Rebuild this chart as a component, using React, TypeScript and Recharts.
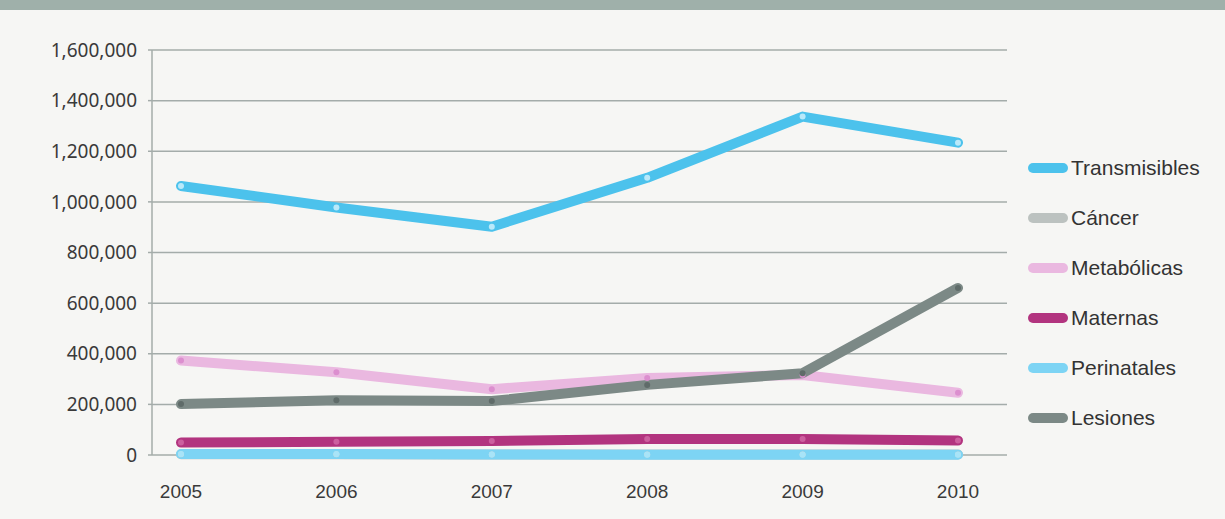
import React from "react";
import { LineChart, Line, XAxis, YAxis, CartesianGrid } from "recharts";

const years = ["2005", "2006", "2007", "2008", "2009", "2010"];
const transmisibles = [1063000, 978000, 902000, 1095000, 1337000, 1234000];
const cancer = [3000, 3000, 2000, 2000, 2000, 2000];
const metabolicas = [373000, 327000, 260000, 304000, 316000, 246000];
const maternas = [49000, 52000, 55000, 63000, 63000, 57000];
const perinatales = [4000, 4000, 2000, 1000, 1000, 1000];
const lesiones = [201000, 216000, 213000, 277000, 323000, 660000];
const yTicks = [0, 200000, 400000, 600000, 800000, 1000000, 1200000, 1400000, 1600000];

const series = [
  { key: "Cáncer", values: cancer, color: "#bcc2c0", dot: "#d6dad8" },
  { key: "Perinatales", values: perinatales, color: "#7dd4f4", dot: "#a8e4f8" },
  { key: "Maternas", values: maternas, color: "#b2347f", dot: "#cc5f9f" },
  { key: "Metabólicas", values: metabolicas, color: "#eab8e0", dot: "#dc8fcf" },
  { key: "Lesiones", values: lesiones, color: "#7c8986", dot: "#5f6b69" },
  { key: "Transmisibles", values: transmisibles, color: "#4cc2ec", dot: "#b9e9fa" },
];
const legendOrder = ["Transmisibles", "Cáncer", "Metabólicas", "Maternas", "Perinatales", "Lesiones"];

const data = years.map((y, i) => {
  const row: Record<string, string | number> = { year: y };
  series.forEach((s) => (row[s.key] = s.values[i]));
  return row;
});

const fmt = (v: number) => v.toLocaleString("en-US");

export default function App() {
  return (
    <div style={{ position: "absolute", left: 0, top: 0, width: 1225, height: 519, background: "#f6f6f4", overflow: "hidden" }}>
      <div style={{ position: "absolute", left: 0, top: 0, width: 1225, height: 10, background: "#9fb0aa" }} />
      <LineChart width={1225} height={519} data={data} margin={{ top: 50, right: 218, bottom: 24, left: 0 }}>
        <CartesianGrid vertical={false} stroke="#a4acaa" strokeWidth={1.5} />
        <XAxis
          dataKey="year"
          axisLine={false}
          tickLine={false}
          tickSize={0}
          tickMargin={30}
          height={40}
          padding={{ left: 29, right: 49 }}
          tick={{ fill: "#3a3a3a", fontSize: 19, fontFamily: "'Liberation Sans', Arial, sans-serif" }}
        />
        <YAxis
          width={152}
          domain={[0, 1600000]}
          ticks={yTicks}
          interval={0}
          tickFormatter={fmt}
          axisLine={{ stroke: "#a4acaa", strokeWidth: 1.5 }}
          tickLine={{ stroke: "#a4acaa", strokeWidth: 1.5 }}
          tickSize={4}
          tickMargin={11}
          tick={{ fill: "#3a3a3a", fontSize: 19, fontFamily: "'Noto Sans', sans-serif" }}
        />
        {series.map((s) => (
          <Line
            key={s.key}
            dataKey={s.key}
            stroke={s.color}
            strokeWidth={10}
            strokeLinecap="round"
            strokeLinejoin="round"
            dot={{ r: 3, fill: s.dot, stroke: "none" }}
            activeDot={false}
            isAnimationActive={false}
          />
        ))}
      </LineChart>
      <div
        style={{
          position: "absolute",
          left: 1028,
          top: 143,
          width: 195,
          fontFamily: "'Liberation Sans', Arial, sans-serif",
          fontSize: 21,
          color: "#333",
        }}
      >
        {legendOrder.map((k) => {
          const s = series.find((x) => x.key === k)!;
          return (
            <div key={k} style={{ display: "flex", alignItems: "center", height: 50 }}>
              <div style={{ width: 40, height: 10, borderRadius: 5, background: s.color, marginRight: 3 }} />
              <span>{k}</span>
            </div>
          );
        })}
      </div>
    </div>
  );
}
